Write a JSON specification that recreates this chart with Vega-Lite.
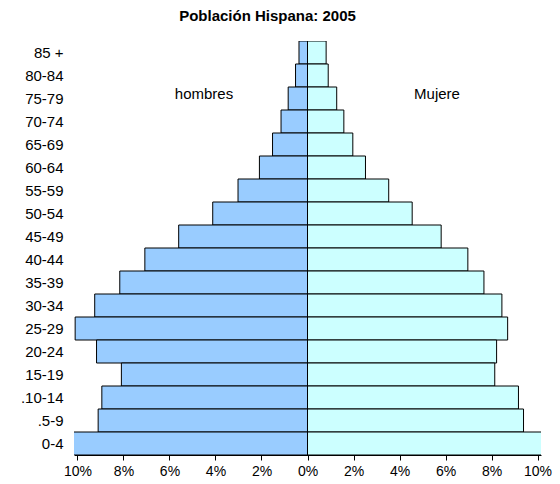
{
  "$schema": "https://vega.github.io/schema/vega-lite/v6.json",
  "autosize": {"type": "none"},
  "padding": {"left": 74, "top": 41, "right": 19, "bottom": 29},
  "width": 467,
  "height": 414,
  "background": "white",
  "title": {
    "text": "Población Hispana: 2005",
    "font": "Liberation Sans",
    "fontSize": 15,
    "fontWeight": "bold",
    "color": "black",
    "anchor": "middle",
    "dx": -40,
    "offset": 17
  },
  "config": {
    "view": {"stroke": null},
    "font": "Liberation Sans"
  },
  "layer": [
    {
      "data": {
        "values": [
          {"age": "85 +", "sex": "hombres", "value": -0.37},
          {"age": "80-84", "sex": "hombres", "value": -0.52},
          {"age": "75-79", "sex": "hombres", "value": -0.84},
          {"age": "70-74", "sex": "hombres", "value": -1.15},
          {"age": "65-69", "sex": "hombres", "value": -1.52},
          {"age": "60-64", "sex": "hombres", "value": -2.09},
          {"age": "55-59", "sex": "hombres", "value": -3.02},
          {"age": "50-54", "sex": "hombres", "value": -4.12},
          {"age": "45-49", "sex": "hombres", "value": -5.6},
          {"age": "40-44", "sex": "hombres", "value": -7.07},
          {"age": "35-39", "sex": "hombres", "value": -8.16},
          {"age": "30-34", "sex": "hombres", "value": -9.25},
          {"age": "25-29", "sex": "hombres", "value": -10.1},
          {"age": "20-24", "sex": "hombres", "value": -9.17},
          {"age": "15-19", "sex": "hombres", "value": -8.09},
          {"age": ".10-14", "sex": "hombres", "value": -8.94},
          {"age": ".5-9", "sex": "hombres", "value": -9.1},
          {"age": "0-4", "sex": "hombres", "value": -10.2},
          {"age": "85 +", "sex": "mujeres", "value": 0.81},
          {"age": "80-84", "sex": "mujeres", "value": 0.9},
          {"age": "75-79", "sex": "mujeres", "value": 1.27},
          {"age": "70-74", "sex": "mujeres", "value": 1.58},
          {"age": "65-69", "sex": "mujeres", "value": 1.97},
          {"age": "60-64", "sex": "mujeres", "value": 2.52},
          {"age": "55-59", "sex": "mujeres", "value": 3.53},
          {"age": "50-54", "sex": "mujeres", "value": 4.55},
          {"age": "45-49", "sex": "mujeres", "value": 5.81},
          {"age": "40-44", "sex": "mujeres", "value": 6.97},
          {"age": "35-39", "sex": "mujeres", "value": 7.67},
          {"age": "30-34", "sex": "mujeres", "value": 8.45},
          {"age": "25-29", "sex": "mujeres", "value": 8.7},
          {"age": "20-24", "sex": "mujeres", "value": 8.22},
          {"age": "15-19", "sex": "mujeres", "value": 8.14},
          {"age": ".10-14", "sex": "mujeres", "value": 9.17},
          {"age": ".5-9", "sex": "mujeres", "value": 9.39},
          {"age": "0-4", "sex": "mujeres", "value": 10.3}
        ]
      },
      "mark": {"type": "bar", "stroke": "black", "strokeWidth": 1, "clip": true},
      "encoding": {
        "y": {
          "field": "age",
          "type": "nominal",
          "sort": ["85 +","80-84","75-79","70-74","65-69","60-64","55-59","50-54","45-49","40-44","35-39","30-34","25-29","20-24","15-19",".10-14",".5-9","0-4"],
          "scale": {"paddingInner": 0, "paddingOuter": 0},
          "axis": {
            "title": null,
            "domain": false,
            "ticks": false,
            "labelPadding": 11,
            "labelFontSize": 15,
            "labelColor": "black",
            "labelFont": "Liberation Sans"
          }
        },
        "x": {
          "field": "value",
          "type": "quantitative",
          "scale": {"domain": [-10.15, 10.15], "nice": false, "zero": false},
          "axis": {
            "title": null,
            "values": [-10, -8, -6, -4, -2, 0, 2, 4, 6, 8, 10],
            "labelExpr": "abs(datum.value) + '%'",
            "grid": false,
            "domainColor": "black",
            "tickColor": "black",
            "tickSize": 5,
            "labelFontSize": 14,
            "labelColor": "black",
            "labelFont": "Liberation Sans",
            "labelPadding": 4
          }
        },
        "color": {
          "field": "sex",
          "type": "nominal",
          "scale": {"domain": ["hombres", "mujeres"], "range": ["#99CCFF", "#CCFFFF"]},
          "legend": null
        }
      }
    },
    {
      "mark": {"type": "rule", "color": "black", "strokeWidth": 2},
      "encoding": {
        "x": {"datum": 0}
      }
    },
    {
      "data": {"values": [{"label": "hombres"}]},
      "mark": {"type": "text", "fontSize": 15, "font": "Liberation Sans", "color": "black", "align": "center", "dy": -5},
      "encoding": {
        "x": {"datum": -4.5},
        "y": {"datum": "75-79"},
        "text": {"field": "label"}
      }
    },
    {
      "data": {"values": [{"label": "Mujere"}]},
      "mark": {"type": "text", "fontSize": 15, "font": "Liberation Sans", "color": "black", "align": "center", "dy": -5},
      "encoding": {
        "x": {"datum": 5.63},
        "y": {"datum": "75-79"},
        "text": {"field": "label"}
      }
    }
  ]
}
